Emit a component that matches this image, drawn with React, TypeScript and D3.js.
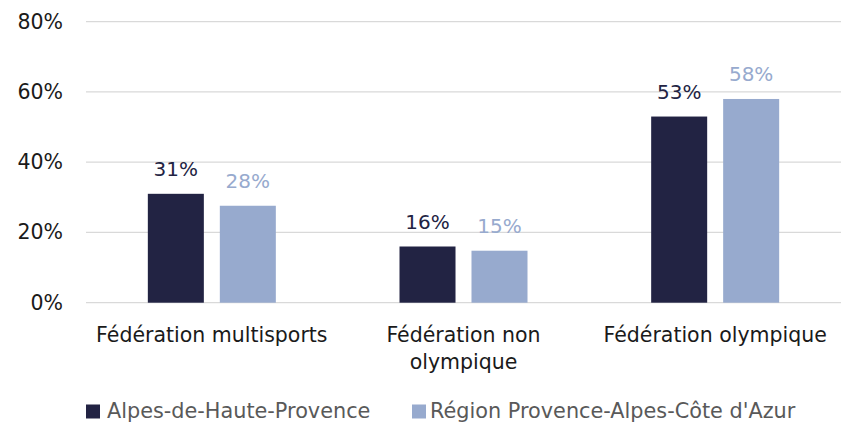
import React from 'react';
import * as d3 from 'd3';

const categories = ['Fédération multisports', 'Fédération non olympique', 'Fédération olympique'];
const categoryLines = [['Fédération multisports'], ['Fédération non', 'olympique'], ['Fédération olympique']];
const seriesNames = ['Alpes-de-Haute-Provence', "Région Provence-Alpes-Côte d'Azur"];
const alpesValues = [31, 16, 53];
const regionValues = [27.6, 14.8, 58];
const alpesLabels = ['31%', '16%', '53%'];
const regionLabels = ['28%', '15%', '58%'];
const yTicks = [0, 20, 40, 60, 80];

const colors = ['#222343', '#97aace'];
const font = "'DejaVu Sans', sans-serif";

const App = () => {
  const width = 841;
  const height = 425;
  const plotLeft = 86;
  const plotRight = 841;

  const y = d3.scaleLinear().domain([0, 80]).range([302.7, 21.7]);
  const x0 = d3.scaleBand().domain(categories).range([plotLeft, plotRight]).padding(0);
  const x1 = d3.scaleBand().domain(seriesNames).range([0, 128]).paddingInner(0.222);

  const seriesValues = [alpesValues, regionValues];
  const seriesLabels = [alpesLabels, regionLabels];

  return (
    <svg width={width} height={height} style={{ display: 'block', position: 'absolute', left: 0, top: 0 }}>
      <rect width={width} height={height} fill="#fff" />
      {/* grid + y ticks */}
      {yTicks.map(t => (
        <g key={t}>
          <line x1={plotLeft} x2={plotRight} y1={y(t)} y2={y(t)} stroke="#d9d9d9" strokeWidth={1.3} />
          <text x={63} y={y(t) + 7} textAnchor="end" fontFamily={font} fontSize={20.5} fill="#1a1a1a">
            {t}%
          </text>
        </g>
      ))}
      {/* bars */}
      {seriesNames.map((s, si) => (
        <g key={s}>
          {categories.map((c, ci) => {
            const cx = (x0(c) as number) + x0.bandwidth() / 2 - 64;
            const bx = cx + (x1(s) as number);
            const v = seriesValues[si][ci];
            return (
              <g key={c}>
                <rect x={bx} y={y(v)} width={x1.bandwidth()} height={y(0) - y(v)} fill={colors[si]} />
                <text x={bx + x1.bandwidth() / 2} y={y(v) - 18} textAnchor="middle" fontFamily={font} fontSize={20} fill={colors[si]}>
                  {seriesLabels[si][ci]}
                </text>
              </g>
            );
          })}
        </g>
      ))}
      {/* category labels */}
      {categories.map((c, ci) => (
        <text key={c} x={(x0(c) as number) + x0.bandwidth() / 2} y={341.5} textAnchor="middle" fontFamily={font} fontSize={20.5} fill="#1a1a1a">
          {categoryLines[ci].map((l, li) => (
            <tspan key={li} x={(x0(c) as number) + x0.bandwidth() / 2} dy={li === 0 ? 0 : 27}>{l}</tspan>
          ))}
        </text>
      ))}
      {/* legend */}
      {seriesNames.map((s, si) => {
        const lx = si === 0 ? 86 : 412;
        return (
          <g key={s}>
            <rect x={lx} y={404.5} width={14} height={14} fill={colors[si]} />
            <text x={lx + (si === 0 ? 21 : 18)} y={418} fontFamily={font} fontSize={20.8} fill="#595959">{s}</text>
          </g>
        );
      })}
    </svg>
  );
};

export default App;
